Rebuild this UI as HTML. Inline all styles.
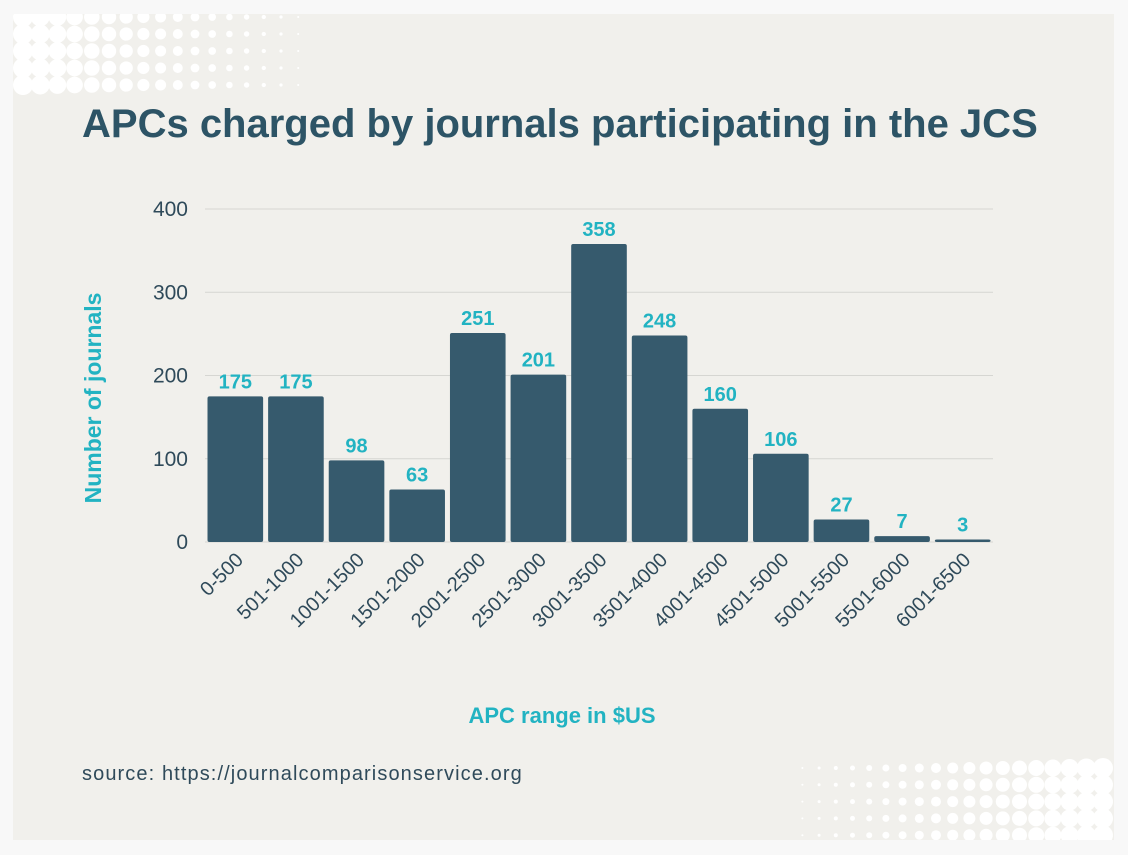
<!DOCTYPE html>
<html><head><meta charset="utf-8"><style>
html,body{margin:0;padding:0;background:#f8f8f8;}
body{width:1128px;height:855px;position:relative;overflow:hidden;font-family:"Liberation Sans",sans-serif;}
#card{position:absolute;left:13px;top:14px;width:1101px;height:826px;background:#f1f0ec;overflow:hidden;}
</style></head><body>
<div id="card"></div>
<svg id="svg" width="1128" height="855" style="position:absolute;left:0;top:0">
<defs><clipPath id="cc"><rect x="13" y="14" width="1101" height="826"/></clipPath></defs>
<g id="dots" clip-path="url(#cc)"></g>
<text x="82" y="137" font-size="40" font-weight="bold" fill="#2d5466">APCs charged by journals participating in the JCS</text>
<g id="grid"></g><g id="bars"></g>
<text transform="translate(101,398) rotate(-90)" text-anchor="middle" font-size="23" font-weight="bold" fill="#22b3c2">Number of journals</text>
<text x="562" y="723" text-anchor="middle" font-size="22" font-weight="bold" fill="#22b3c2">APC range in $US</text>
<text x="82" y="780" font-size="20" fill="#2f4a5a" letter-spacing="1.1">source: https://journalcomparisonservice.org</text>
</svg>
<script>
const categories=["0-500","501-1000","1001-1500","1501-2000","2001-2500","2501-3000","3001-3500","3501-4000","4001-4500","4501-5000","5001-5500","5501-6000","6001-6500"];
const values=[175,175,98,63,251,201,358,248,160,106,27,7,3];
const yTicks=[0,100,200,300,400];
const NS="http://www.w3.org/2000/svg";
const x0=205,x1=993,y0=542,yTop=209,yMax=400;
const band=(x1-x0)/categories.length;
const y=v=>y0-(v/yMax)*(y0-yTop);
function mk(t,a,p){const e=document.createElementNS(NS,t);for(const k in a)e.setAttribute(k,a[k]);(p||document.getElementById('svg')).appendChild(e);return e;}
const dots=document.getElementById('dots');
for(let r=0;r<5;r++){
 for(let c=0;c<17;c++){
  const e=mk('circle',{cx:23+c*17.2,cy:17+r*17,r:Math.max(1,10-c*0.56),fill:'#fff'},dots);
  
 }
 for(let c=0;c<19;c++){
  const f=mk('circle',{cx:1103-c*16.7,cy:768+r*16.8,r:Math.max(1,10-c*0.5),fill:'#fff'},dots);
  
 }
}
const grid=document.getElementById('grid'),bars=document.getElementById('bars');
yTicks.forEach(t=>{
 const l=mk('line',{x1:x0,x2:x1,y1:y(t),y2:y(t),stroke:'#d6d6d2','stroke-width':1},grid);
 
 const tx=mk('text',{x:188,y:y(t)+7,'text-anchor':'end','font-size':21,fill:'#2f4a5a'},grid);
 tx.textContent=t;
});
categories.forEach((c,i)=>{
 const bx=x0+i*band+2.5,bw=band-5,cx=x0+i*band+band/2;
 const r=mk('rect',{x:bx,y:y(values[i]),width:bw,height:y0-y(values[i]),fill:'#365a6d',rx:2},bars);
 
 const v=mk('text',{x:cx,y:y(values[i])-8,'text-anchor':'middle','font-size':20,'font-weight':'bold',fill:'#22b3c2'},bars);
 v.textContent=values[i];
 const xl=mk('text',{transform:`translate(${cx+9},${y0+19}) rotate(-45)`,'text-anchor':'end','font-size':20,fill:'#2f4a5a'},bars);
 xl.textContent=c;
});
</script>
</body></html>
